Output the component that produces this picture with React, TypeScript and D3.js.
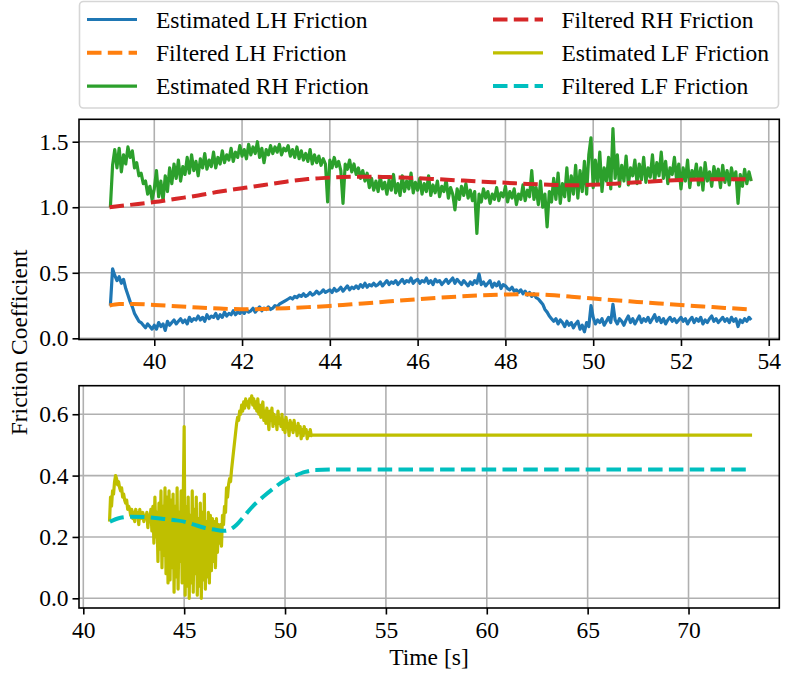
import React, { useEffect, useRef } from 'react'
import * as d3 from 'd3'

const WIDTH = 790
const HEIGHT = 676
const FONT = '"Liberation Serif", "Times New Roman", serif'

// Estimated RH friction, sampled every 0.05 s from 39.0 s (one row per second)
const rhStart = 39.0
const rhStep = 0.05
const estimatedRH = [
  1.0, 1.32, 1.44, 1.3, 1.45, 1.27, 1.4, 1.33, 1.46, 1.38, 1.43, 1.3, 1.34, 1.24, 1.26, 1.18, 1.2, 1.1, 1.16, 1.06,
  1.14, 1.28, 1.08, 1.2, 1.05, 1.24, 1.12, 1.3, 1.18, 1.33, 1.22, 1.36, 1.2, 1.31, 1.25, 1.38, 1.26, 1.4, 1.28, 1.35,
  1.24, 1.37, 1.3, 1.41, 1.29, 1.36, 1.31, 1.42, 1.3, 1.38, 1.33, 1.43, 1.34, 1.4, 1.36, 1.45, 1.35, 1.42, 1.38, 1.47,
  1.39, 1.44, 1.37, 1.48, 1.4, 1.46, 1.41, 1.5, 1.38, 1.45, 1.34, 1.44, 1.4, 1.47, 1.41, 1.46, 1.42, 1.48, 1.4, 1.45,
  1.43, 1.47, 1.39, 1.44, 1.38, 1.46, 1.37, 1.43, 1.36, 1.41, 1.35, 1.44, 1.33, 1.4, 1.34, 1.39, 1.32, 1.37, 1.33, 1.04,
  1.36, 1.3, 1.38, 1.31, 1.35, 1.28, 1.03, 1.33, 1.29, 1.36, 1.27, 1.33, 1.25, 1.3, 1.22, 1.28, 1.2, 1.26, 1.15, 1.22,
  1.13, 1.2, 1.12, 1.23, 1.14, 1.19, 1.1, 1.21, 1.13, 1.25, 1.11, 1.18, 1.09, 1.24, 1.12, 1.2, 1.14, 1.26, 1.11, 1.19,
  1.13, 1.22, 1.1, 1.18, 1.12, 1.24, 1.09, 1.17, 1.11, 1.2, 1.08, 1.16, 1.12, 1.21, 1.07, 1.15, 1.1, 0.98, 1.14, 1.06,
  1.16, 1.09, 1.18, 1.07, 1.13, 1.05, 1.12, 0.8, 1.1, 1.04, 1.14, 1.07, 1.12, 1.03, 1.1, 1.06, 1.15, 1.05, 1.11, 1.08,
  1.16, 1.04, 1.12, 1.07, 1.14, 1.02, 1.1, 1.06, 1.17, 1.05, 1.13, 1.08, 1.28, 1.06, 1.15, 1.02, 1.2, 1.0, 1.1, 0.85,
  1.12, 1.04, 1.22, 1.06, 1.26, 1.03, 1.18, 1.08, 1.3, 1.05, 1.24, 1.1, 1.32, 1.07, 1.28, 1.12, 1.35, 1.1, 1.4, 1.53,
  1.15, 1.36, 1.18, 1.42, 1.12, 1.3, 1.2, 1.38, 1.14, 1.6, 1.22, 1.4, 1.16, 1.32, 1.2, 1.39, 1.17, 1.3, 1.24, 1.36,
  1.18, 1.33, 1.21, 1.38, 1.19, 1.3, 1.23, 1.4, 1.2, 1.34, 1.24, 1.42, 1.22, 1.35, 1.18, 1.3, 1.25, 1.38, 1.21, 1.33,
  1.14, 1.3, 1.2, 1.36, 1.15, 1.28, 1.22, 1.33, 1.17, 1.3, 1.13, 1.34, 1.2, 1.27, 1.16, 1.31, 1.22, 1.29, 1.15, 1.32,
  1.19, 1.28, 1.17, 1.3, 1.21, 1.27, 1.03, 1.25, 1.16, 1.29, 1.18, 1.27, 1.2,
]

// Estimated LH friction, sampled every 0.05 s from 39.0 s (one row per second)
const lhStart = 39.0
const lhStep = 0.05
const estimatedLH = [
  0.25, 0.53, 0.48, 0.44, 0.47, 0.42, 0.45, 0.38, 0.33, 0.28, 0.24, 0.19, 0.16, 0.13, 0.12, 0.1, 0.08, 0.11, 0.09, 0.07,
  0.1, 0.07, 0.12, 0.09, 0.11, 0.06, 0.13, 0.1, 0.12, 0.14, 0.11, 0.13, 0.15, 0.12, 0.14, 0.11, 0.16, 0.13, 0.15, 0.14,
  0.17, 0.14, 0.16, 0.13, 0.18, 0.15, 0.17, 0.16, 0.19, 0.15, 0.18, 0.16, 0.2, 0.17, 0.19, 0.18, 0.21, 0.18, 0.2, 0.19,
  0.21, 0.19, 0.22, 0.2, 0.21, 0.23, 0.2, 0.22, 0.24, 0.21, 0.23, 0.22, 0.24, 0.22, 0.23, 0.25, 0.24, 0.26, 0.27, 0.28,
  0.29, 0.3, 0.31, 0.3, 0.32, 0.31, 0.33, 0.32, 0.34, 0.32, 0.33, 0.35, 0.33, 0.34, 0.36, 0.34, 0.35, 0.37, 0.35, 0.36,
  0.37, 0.35, 0.38, 0.36, 0.37, 0.39, 0.36, 0.38, 0.4, 0.37, 0.39, 0.38, 0.4, 0.38, 0.41, 0.39, 0.42, 0.39, 0.41, 0.4,
  0.42, 0.4, 0.41, 0.43, 0.4, 0.42, 0.44, 0.41, 0.43, 0.42, 0.44, 0.41, 0.43, 0.45, 0.42, 0.44, 0.43, 0.46, 0.42, 0.44,
  0.45, 0.42, 0.44, 0.43, 0.46, 0.42, 0.44, 0.41, 0.45, 0.43, 0.44, 0.41, 0.43, 0.45, 0.42, 0.44, 0.46, 0.42, 0.45, 0.43,
  0.41, 0.44, 0.42, 0.4, 0.43, 0.41, 0.44, 0.42, 0.49, 0.41, 0.43, 0.4, 0.42, 0.44, 0.39, 0.42, 0.4, 0.43, 0.38, 0.41,
  0.4, 0.38, 0.37, 0.39, 0.36, 0.37, 0.35, 0.37, 0.34, 0.36, 0.33, 0.35, 0.32, 0.34, 0.31, 0.3, 0.28, 0.26, 0.22, 0.2,
  0.17, 0.15, 0.13, 0.15, 0.11, 0.14, 0.12, 0.09, 0.13, 0.1, 0.12, 0.08, 0.11, 0.13, 0.07, 0.1, 0.05, 0.12, 0.09, 0.25,
  0.16, 0.11, 0.14, 0.12, 0.15, 0.1, 0.13, 0.16, 0.12, 0.26, 0.14, 0.11, 0.15, 0.13, 0.1, 0.14, 0.17, 0.12, 0.15, 0.11,
  0.14, 0.17, 0.12, 0.15, 0.13, 0.16, 0.12, 0.15, 0.18, 0.13, 0.16, 0.12, 0.15, 0.11, 0.14, 0.16, 0.13, 0.15, 0.12, 0.14,
  0.16, 0.13, 0.15, 0.11, 0.14, 0.16, 0.12, 0.15, 0.13, 0.16, 0.11, 0.14, 0.12, 0.15, 0.17, 0.13, 0.15, 0.12, 0.14, 0.16,
  0.13, 0.15, 0.12, 0.16, 0.13, 0.15, 0.09, 0.14, 0.12, 0.15, 0.13, 0.16, 0.14,
]

const filteredLH: [number, number][] = [
  [38.98, 0.25], [39.2, 0.262], [39.5, 0.262], [40, 0.255], [40.5, 0.245], [41, 0.235],
  [41.5, 0.227], [42, 0.222], [42.5, 0.224], [43, 0.23], [43.5, 0.238], [44, 0.247],
  [44.5, 0.26], [45, 0.272], [45.5, 0.285], [46, 0.298], [46.5, 0.31], [47, 0.32],
  [47.5, 0.328], [48, 0.334], [48.5, 0.336], [49, 0.33], [49.5, 0.318], [50, 0.303],
  [50.5, 0.29], [51, 0.278], [51.5, 0.266], [52, 0.254], [52.5, 0.243], [53, 0.232], [53.62, 0.22],
]

const filteredRH: [number, number][] = [
  [38.98, 1.0], [39.5, 1.02], [40, 1.04], [40.5, 1.065], [41, 1.09], [41.5, 1.12],
  [42, 1.145], [42.5, 1.17], [43, 1.195], [43.5, 1.215], [44, 1.226], [44.5, 1.232],
  [45, 1.233], [45.5, 1.228], [46, 1.222], [46.5, 1.213], [47, 1.204], [47.5, 1.195],
  [48, 1.187], [48.5, 1.178], [49, 1.172], [49.5, 1.168], [50, 1.172], [50.5, 1.18],
  [51, 1.19], [51.5, 1.2], [52, 1.208], [52.5, 1.212], [53, 1.214], [53.62, 1.214],
]

// Estimated LF friction, sampled every 0.05 s from 41.3 s, then held
const lfStart = 41.3
const lfStep = 0.05
const estimatedLF = [
  0.25, 0.33, 0.3, 0.35, 0.34, 0.38, 0.4, 0.39, 0.37, 0.38, 0.36, 0.35, 0.36, 0.33, 0.34, 0.32, 0.31, 0.32, 0.29, 0.3,
  0.29, 0.27, 0.29, 0.26, 0.28, 0.25, 0.29, 0.27, 0.28, 0.24, 0.29, 0.26, 0.27, 0.28, 0.25, 0.27, 0.26, 0.28, 0.23, 0.27,
  0.26, 0.29, 0.22, 0.3, 0.18, 0.33, 0.2, 0.28, 0.12, 0.31, 0.16, 0.35, 0.1, 0.3, 0.14, 0.36, 0.08, 0.33, 0.05, 0.35,
  0.06, 0.32, 0.1, 0.34, 0.02, 0.3, 0.07, 0.36, 0.03, 0.28, 0.12, 0.35, 0.05, 0.3, 0.56, 0.01, 0.3, 0.04, 0.33, 0.0,
  0.27, 0.05, 0.35, 0.02, 0.29, 0.08, 0.33, 0.01, 0.26, 0.04, 0.31, 0.0, 0.28, 0.06, 0.34, 0.03, 0.25, 0.07, 0.28, 0.05,
  0.27, 0.09, 0.26, 0.12, 0.25, 0.1, 0.26, 0.15, 0.24, 0.18, 0.24, 0.17, 0.27, 0.24, 0.3, 0.28, 0.36, 0.33, 0.37, 0.39,
  0.38, 0.42, 0.45, 0.48, 0.51, 0.54, 0.57, 0.59, 0.58, 0.61, 0.6, 0.63, 0.61, 0.64, 0.62, 0.65, 0.63, 0.64, 0.62, 0.65,
  0.64, 0.66, 0.63, 0.65, 0.62, 0.64, 0.61, 0.65, 0.6, 0.63, 0.59, 0.62, 0.64, 0.58, 0.61, 0.57, 0.62, 0.59, 0.55, 0.61,
  0.58, 0.62, 0.56, 0.6, 0.57, 0.59, 0.55, 0.61, 0.57, 0.58, 0.56, 0.6, 0.55, 0.58, 0.54, 0.59, 0.56, 0.57, 0.53, 0.58,
  0.55, 0.57, 0.54, 0.58, 0.55, 0.56, 0.53, 0.57, 0.54, 0.56, 0.52, 0.55, 0.53, 0.56, 0.54, 0.55, 0.52, 0.54, 0.53, 0.55,
  0.53,
]
const lfHold: [number, number][] = [[51.35, 0.532], [73.15, 0.532]]

const filteredLF: [number, number][] = [
  [41.32, 0.25], [41.8, 0.262], [42.4, 0.266], [43, 0.265], [43.8, 0.26], [44.5, 0.255],
  [45, 0.25], [45.5, 0.24], [46, 0.23], [46.5, 0.224], [47, 0.22], [47.3, 0.225],
  [47.6, 0.24], [48, 0.27], [48.4, 0.3], [48.9, 0.33], [49.4, 0.357], [50, 0.385],
  [50.5, 0.4], [51, 0.412], [51.5, 0.418], [52.5, 0.42], [73.15, 0.42],
]

const topXTicks = [40, 42, 44, 46, 48, 50, 52, 54]
const topYTicks = [0, 0.5, 1.0, 1.5]
const bottomXTicks = [40, 45, 50, 55, 60, 65, 70]
const bottomYTicks = [0, 0.2, 0.4, 0.6]

const legendItems = [
  { label: 'Estimated LH Friction', color: '#1f77b4', dashed: false },
  { label: 'Filtered LH Friction', color: '#ff7f0e', dashed: true },
  { label: 'Estimated RH Friction', color: '#2ca02c', dashed: false },
  { label: 'Filtered RH Friction', color: '#d62728', dashed: true },
  { label: 'Estimated LF Friction', color: '#bfbf00', dashed: false },
  { label: 'Filtered LF Friction', color: '#00bfbf', dashed: true },
]

const sampled = (start: number, step: number, values: number[]): [number, number][] =>
  values.map((v, i) => [start + i * step, v])

const DASH = '14.5,6.3'
const SOLID_W = 3.2
const DASH_W = 4

const App: React.FC = () => {
  const svgRef = useRef<SVGSVGElement>(null)

  useEffect(() => {
    if (!svgRef.current) return
    const svg = d3.select(svgRef.current)
    svg.selectAll('*').remove()

    // Legend
    const legend = svg.append('g')
    legend
      .append('rect')
      .attr('x', 79.5)
      .attr('y', 1.5)
      .attr('width', 699)
      .attr('height', 106.5)
      .attr('rx', 4)
      .attr('fill', '#fff')
      .attr('stroke', '#d6d6d6')
      .attr('stroke-width', 1.6)
    legendItems.forEach((item, i) => {
      const col = Math.floor(i / 3)
      const row = i % 3
      const hx = col === 0 ? 87 : 493
      const cy = 19.5 + row * 33.3
      legend
        .append('line')
        .attr('x1', hx)
        .attr('x2', hx + 50)
        .attr('y1', cy)
        .attr('y2', cy)
        .attr('stroke', item.color)
        .attr('stroke-width', item.dashed ? DASH_W : SOLID_W)
        .attr('stroke-dasharray', item.dashed ? DASH : null)
      legend
        .append('text')
        .attr('x', col === 0 ? 156 : 561.5)
        .attr('y', cy + 8)
        .style('font-family', FONT)
        .style('font-size', '23.5px')
        .attr('fill', '#000')
        .text(item.label)
    })

    const drawPanel = (
      box: { left: number; right: number; top: number; bottom: number },
      xDomain: [number, number],
      yDomain: [number, number],
      xTicks: number[],
      yTicks: number[],
      series: { data: [number, number][]; color: string; dashed: boolean; smooth: boolean }[]
    ) => {
      const x = d3.scaleLinear().domain(xDomain).range([box.left, box.right])
      const y = d3.scaleLinear().domain(yDomain).range([box.bottom, box.top])
      const g = svg.append('g')

      // grid
      g.selectAll('.gx')
        .data(xTicks)
        .enter()
        .append('line')
        .attr('x1', (d) => x(d))
        .attr('x2', (d) => x(d))
        .attr('y1', box.top)
        .attr('y2', box.bottom)
        .attr('stroke', '#b0b0b0')
        .attr('stroke-width', 1.6)
      g.selectAll('.gy')
        .data(yTicks)
        .enter()
        .append('line')
        .attr('x1', box.left)
        .attr('x2', box.right)
        .attr('y1', (d) => y(d))
        .attr('y2', (d) => y(d))
        .attr('stroke', '#b0b0b0')
        .attr('stroke-width', 1.6)

      // lines
      series.forEach((s) => {
        const line = d3
          .line<[number, number]>()
          .x((d) => x(d[0]))
          .y((d) => y(d[1]))
          .curve(s.smooth ? d3.curveMonotoneX : d3.curveLinear)
        g.append('path')
          .datum(s.data)
          .attr('d', line)
          .attr('fill', 'none')
          .attr('stroke', s.color)
          .attr('stroke-width', s.dashed ? DASH_W : SOLID_W)
          .attr('stroke-linejoin', 'round')
          .attr('stroke-dasharray', s.dashed ? DASH : null)
      })

      // spines
      g.append('rect')
        .attr('x', box.left)
        .attr('y', box.top)
        .attr('width', box.right - box.left)
        .attr('height', box.bottom - box.top)
        .attr('fill', 'none')
        .attr('stroke', '#000')
        .attr('stroke-width', 1.6)

      // axes
      const xAxis = g
        .append('g')
        .attr('transform', `translate(0,${box.bottom})`)
        .call(d3.axisBottom(x).tickValues(xTicks).tickSize(6.5).tickPadding(6.8).tickFormat((d) => `${d}`))
      const yAxis = g
        .append('g')
        .attr('transform', `translate(${box.left},0)`)
        .call(d3.axisLeft(y).tickValues(yTicks).tickSize(6.5).tickPadding(4).tickFormat((d) => Number(d).toFixed(1)))
      ;[xAxis, yAxis].forEach((a) => {
        a.attr('font-family', null).attr('font-size', null)
        a.select('.domain').remove()
        a.selectAll('.tick line').attr('stroke', '#000').attr('stroke-width', 1.6)
        a.selectAll('.tick text').attr('fill', '#000').style('font-family', FONT).style('font-size', '23.5px')
      })
    }

    drawPanel(
      { left: 79, right: 779.3, top: 119.3, bottom: 339.5 },
      [38.285, 54.24],
      [-0.009, 1.671],
      topXTicks,
      topYTicks,
      [
        { data: sampled(lhStart, lhStep, estimatedLH), color: '#1f77b4', dashed: false, smooth: false },
        { data: filteredLH, color: '#ff7f0e', dashed: true, smooth: true },
        { data: sampled(rhStart, rhStep, estimatedRH), color: '#2ca02c', dashed: false, smooth: false },
        { data: filteredRH, color: '#d62728', dashed: true, smooth: true },
      ]
    )

    drawPanel(
      { left: 79, right: 779.3, top: 385.7, bottom: 608 },
      [39.787, 74.5],
      [-0.0316, 0.693],
      bottomXTicks,
      bottomYTicks,
      [
        { data: sampled(lfStart, lfStep, estimatedLF).concat(lfHold), color: '#bfbf00', dashed: false, smooth: false },
        { data: filteredLF, color: '#00bfbf', dashed: true, smooth: true },
      ]
    )

    svg
      .append('text')
      .attr('transform', 'translate(27,342.5) rotate(-90)')
      .attr('text-anchor', 'middle')
      .style('font-family', FONT)
      .style('font-size', '23.5px')
      .text('Friction Coefficient')

    svg
      .append('text')
      .attr('x', 429)
      .attr('y', 665)
      .attr('text-anchor', 'middle')
      .style('font-family', FONT)
      .style('font-size', '23.5px')
      .text('Time [s]')
  }, [])

  return (
    <svg
      ref={svgRef}
      width={WIDTH}
      height={HEIGHT}
      style={{ position: 'absolute', left: 0, top: 0, background: '#fff' }}
    />
  )
}

export default App
